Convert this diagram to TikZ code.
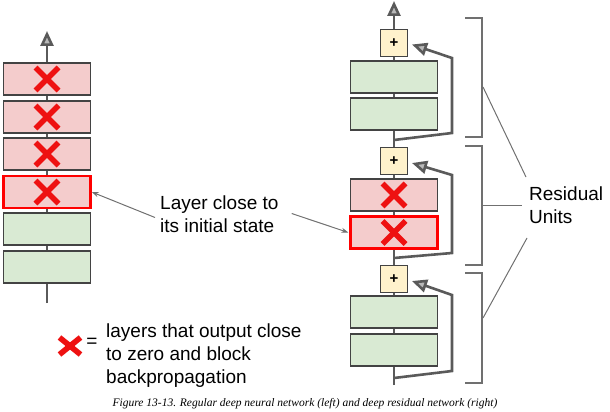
\documentclass[tikz,border=0pt]{standalone}
\usepackage{fontspec}
\setmainfont{Liberation Sans}
\newfontfamily\capfont{Liberation Serif}
\usetikzlibrary{arrows.meta,calc}
\definecolor{pinkfill}{HTML}{F4CCCC}
\definecolor{greenfill}{HTML}{D9EAD3}
\definecolor{plusfill}{HTML}{FFF2CC}
\definecolor{boxline}{HTML}{434343}
\definecolor{flow}{HTML}{5A5A5A}
\definecolor{thin}{HTML}{707070}
\definecolor{xred}{HTML}{EE1111}
\begin{document}
\begin{tikzpicture}[x=1pt,y=-1pt,
  xstroke/.style={draw=xred,line width=5.6pt},
  crossed/.style n args={2}{path picture={
    \draw[xstroke] ([shift={(-#1pt,-#2pt)}]path picture bounding box.center) -- ([shift={(#1pt,#2pt)}]path picture bounding box.center);
    \draw[xstroke] ([shift={(-#1pt,#2pt)}]path picture bounding box.center) -- ([shift={(#1pt,-#2pt)}]path picture bounding box.center);}},
  layer/.style={draw=boxline,line width=1.3pt,minimum width=87pt,minimum height=32pt,inner sep=0pt},
  dead/.style={layer,fill=pinkfill,crossed={11.5}{11.5}},
  alive/.style={layer,fill=greenfill},
  fresh/.style={dead,draw=red,line width=2.4pt},
  plusbox/.style={draw=boxline,line width=1pt,fill=plusfill,minimum size=27pt,inner sep=0pt,font=\bfseries\fontsize{15}{15}\selectfont},
  flowline/.style={draw=flow,line width=2.6pt},
  flowarrow/.style={flowline,-{Triangle[width=13pt,length=15pt,fill=gray!55]}},
  bracket/.style={draw=thin,line width=1.1pt},
  leader/.style={draw=thin,line width=1pt},
  pointer/.style={draw=thin,line width=1pt,-{Stealth[length=7pt,width=5pt]}},
  label/.style={font=\fontsize{19}{23}\selectfont,align=left,inner sep=0pt},
  caption/.style={font=\capfont\itshape\fontsize{11.5}{13}\selectfont,inner sep=0pt}
]
\useasboundingbox (0,0) rectangle (610,412);

% ---------- left network ----------
\coordinate (Lbot) at (47,303);
\coordinate (Ltop) at (47,31);
\node[dead]  (L1) at (47,79) {};
\node[dead]  (L2) at (47,117) {};
\node[dead]  (L3) at (47,154) {};
\node[fresh] (L4) at (47,192) {};
\node[alive] (L5) at (47,229) {};
\node[alive] (L6) at (47,267) {};
\draw[flowline] (Lbot) -- (L6.south);
\draw[flowline] (L6.north) -- (L5.south);
\draw[flowline] (L5.north) -- (L4.south);
\draw[flowline] (L4.north) -- (L3.south);
\draw[flowline] (L3.north) -- (L2.south);
\draw[flowline] (L2.north) -- (L1.south);
\draw[flowarrow] (L1.north) -- (Ltop);

% ---------- right network ----------
\coordinate (Rbot) at (394,385);
\coordinate (Rtop) at (394,1);
\node[plusbox] (P1) at (394,43.5) {+};
\node[alive]   (R1a) at (394,77) {};
\node[alive]   (R1b) at (394,114) {};
\node[plusbox] (P2) at (394,161) {+};
\node[dead]    (R2a) at (394,195) {};
\node[fresh]   (R2b) at (394,232.5) {};
\node[plusbox] (P3) at (394,279) {+};
\node[alive]   (R3a) at (394,312) {};
\node[alive]   (R3b) at (394,350) {};
\draw[flowline] (Rbot) -- (R3b.south);
\draw[flowline] (R3b.north) -- (R3a.south);
\draw[flowline] (R3a.north) -- (P3.south);
\draw[flowline] (P3.north) -- (R2b.south);
\draw[flowline] (R2b.north) -- (R2a.south);
\draw[flowline] (R2a.north) -- (P2.south);
\draw[flowline] (P2.north) -- (R1b.south);
\draw[flowline] (R1b.north) -- (R1a.south);
\draw[flowline] (R1a.north) -- (P1.south);
\draw[flowarrow] (P1.north) -- (Rtop);

% skip connections
\coordinate (S1) at (394,140);
\coordinate (S2) at (394,258);
\coordinate (S3) at (394,378);
\draw[flowarrow] (S1) -- (452,133) -- (452,58) -- ([shift={(4,1)}]P1.east);
\draw[flowarrow] (S2) -- (452,253) -- (452,175) -- ([shift={(4,2)}]P2.east);
\draw[flowarrow] (S3) -- (452,371) -- (452,295) -- ([shift={(4,2)}]P3.east);

% brackets
\draw[bracket] (465,18) -- (482,18) -- (482,137) -- (465,137);
\draw[bracket] (465,146) -- (482,146) -- (482,265) -- (465,265);
\draw[bracket] (465,273) -- (482,273) -- (482,383) -- (465,383);

% Residual Units label
\node[label,anchor=west] (RU) at (529,205) {Residual\\Units};
\coordinate (B1) at (483,87);
\coordinate (B2) at (483,205);
\coordinate (B3) at (483,318);
\draw[leader] (B1) -- ([shift={(-3,-28)}]RU.west);
\draw[leader] (B2) -- ([shift={(-7,0)}]RU.west);
\draw[leader] (B3) -- ([shift={(-2,33)}]RU.west);

% Layer close to its initial state
\node[label,anchor=west] (LT) at (160,214.5) {Layer close to\\its initial state};
\draw[pointer] ([shift={(-5,3)}]LT.west) -- (L4.east);
\draw[pointer] ([shift={(13,-1)}]LT.east) -- ([shift={(-1,0)}]R2b.west);

% legend
\node[minimum width=26pt,minimum height=21pt,inner sep=0pt,crossed={10.5}{8.5}] (XL) at (70,346) {};
\node[label] (EQ) at (92,343) {=};
\node[label,anchor=west] (LG) at (106,356) {layers that output close\\to zero and block\\backpropagation};

% caption
\node[caption] (CAP) at (305,404) {Figure 13-13. Regular deep neural network (left) and deep residual network (right)};
\end{tikzpicture}
\end{document}
